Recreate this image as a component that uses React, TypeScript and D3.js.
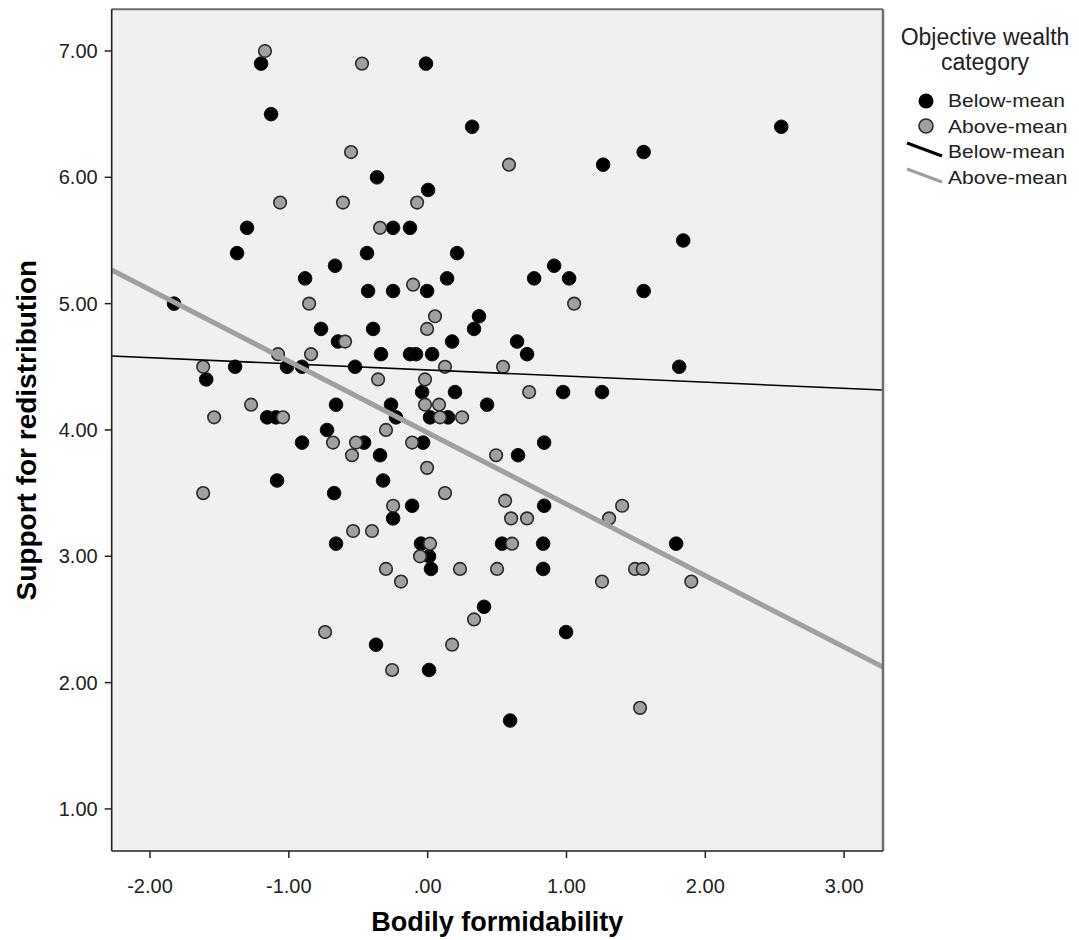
import React from 'react';
import * as d3 from 'd3';

// Bodily formidability (x) vs support for redistribution (y)
const belowMean: [number, number][] = [
  [-1.2, 6.9], [-0.012, 6.9], [-1.128, 6.5], [0.32, 6.4], [2.547, 6.4],
  [1.556, 6.2], [1.264, 6.1], [-0.365, 6.0], [0.003, 5.9],
  [-1.301, 5.6], [-0.249, 5.6], [-0.127, 5.6], [1.841, 5.5],
  [-1.373, 5.4], [-0.437, 5.4], [0.212, 5.4], [-0.667, 5.3], [0.911, 5.3],
  [-0.883, 5.2], [0.14, 5.2], [0.767, 5.2], [1.019, 5.2],
  [-0.429, 5.1], [-0.249, 5.1], [-0.004, 5.1], [1.556, 5.1],
  [-1.827, 5.0], [0.37, 4.9], [-0.768, 4.8], [-0.393, 4.8], [0.334, 4.8],
  [-0.646, 4.7], [0.176, 4.7], [0.644, 4.7],
  [-0.336, 4.6], [-0.127, 4.6], [-0.084, 4.6], [0.032, 4.6], [0.716, 4.6],
  [-1.387, 4.5], [-1.013, 4.5], [-0.905, 4.5], [-0.523, 4.5], [1.812, 4.5],
  [-1.595, 4.4], [-0.04, 4.3], [0.197, 4.3], [0.976, 4.3], [1.256, 4.3],
  [-0.66, 4.2], [-0.264, 4.2], [0.428, 4.2],
  [-1.156, 4.1], [-1.092, 4.1], [-0.228, 4.1], [0.017, 4.1], [0.147, 4.1],
  [-0.725, 4.0], [-0.905, 3.9], [-0.458, 3.9], [-0.033, 3.9], [0.839, 3.9],
  [-0.343, 3.8], [0.651, 3.8], [-1.085, 3.6], [-0.321, 3.6], [-0.674, 3.5],
  [-0.112, 3.4], [0.839, 3.4], [-0.249, 3.3],
  [-0.66, 3.1], [-0.048, 3.1], [0.536, 3.1], [0.832, 3.1], [1.79, 3.1],
  [0.01, 3.0], [0.024, 2.9], [0.832, 2.9], [0.406, 2.6], [0.997, 2.4],
  [-0.372, 2.3], [0.01, 2.1], [0.594, 1.7],
];

const aboveMean: [number, number][] = [
  [-1.172, 7.0], [-0.473, 6.9], [-0.552, 6.2], [0.586, 6.1],
  [-1.063, 5.8], [-0.61, 5.8], [-0.076, 5.8], [-0.343, 5.6], [-0.105, 5.15],
  [-0.854, 5.0], [1.055, 5.0], [0.053, 4.9], [-0.004, 4.8], [-0.595, 4.7],
  [-1.078, 4.6], [-0.84, 4.6], [-1.617, 4.5], [0.125, 4.5], [0.543, 4.5],
  [-0.357, 4.4], [-0.019, 4.4], [0.731, 4.3],
  [-1.272, 4.2], [-0.019, 4.2], [0.082, 4.2],
  [-1.538, 4.1], [-1.042, 4.1], [0.089, 4.1], [0.248, 4.1], [-0.3, 4.0],
  [-0.682, 3.9], [-0.516, 3.9], [-0.112, 3.9], [-0.545, 3.8], [0.493, 3.8],
  [-0.004, 3.7], [-1.617, 3.5], [0.125, 3.5], [0.558, 3.44],
  [-0.249, 3.4], [1.401, 3.4], [0.601, 3.3], [0.716, 3.3], [1.307, 3.3],
  [-0.537, 3.2], [-0.401, 3.2], [0.017, 3.1], [0.608, 3.1], [-0.055, 3.0],
  [-0.3, 2.9], [0.233, 2.9], [0.5, 2.9], [1.494, 2.9], [1.549, 2.9],
  [-0.192, 2.8], [1.256, 2.8], [1.899, 2.8], [0.334, 2.5], [-0.739, 2.4],
  [0.176, 2.3], [-0.256, 2.1], [1.53, 1.8],
];

// linear fit lines: [intercept, slope]
const belowFit = [4.475, -0.0484];
const aboveFit = [3.978, -0.5657];

const xTicks = [-2, -1, 0, 1, 2, 3];
const yTicks = [1, 2, 3, 4, 5, 6, 7];
const legendTitle = ['Objective wealth', 'category'];
const legendLabels = ['Below-mean', 'Above-mean'];

// SPSS style: "-2.00", ".00"
const fmt = (v: number) => d3.format('.2f')(v).replace('\u2212', '-').replace(/^(-?)0\./, '$1.');

const FONT = "'Liberation Sans', Arial, sans-serif";
const GRAY = '#a0a0a0';

export default function App() {
  const W = 1079;
  const H = 940;
  const left = 111.7;
  const right = 883;
  const top = 9.3;
  const bottom = 851;

  const x = d3.scaleLinear().domain([-2.276, 3.28]).range([left, right]);
  const y = d3.scaleLinear().domain([0.667, 7.33]).range([bottom, top]);

  const fitLine = (fit: number[]) => {
    const [x0, x1] = x.domain();
    return d3.line<number>()
      .x((d) => x(d))
      .y((d) => y(fit[0] + fit[1] * d))([x0, x1]);
  };

  return (
    <svg width={W} height={H} style={{ position: 'absolute', left: 0, top: 0 }} fontFamily={FONT}>
      <rect x={0} y={0} width={W} height={H} fill="#fff" />
      <rect x={left} y={top} width={right - left} height={bottom - top} fill="#f0f0f0" />

      <defs>
        <clipPath id="plot">
          <rect x={left} y={top} width={right - left} height={bottom - top} />
        </clipPath>
      </defs>

      <g clipPath="url(#plot)">
        {belowMean.map((d, i) => (
          <circle key={'b' + i} cx={x(d[0])} cy={y(d[1])} r={6.8} fill="#000" stroke="#111" strokeWidth={1} />
        ))}
        {aboveMean.map((d, i) => (
          <circle key={'a' + i} cx={x(d[0])} cy={y(d[1])} r={6.3} fill={GRAY} stroke="#2a2a2a" strokeWidth={1.6} />
        ))}
        <path d={fitLine(belowFit) || ''} stroke="#000" strokeWidth={1.6} fill="none" />
        <path d={fitLine(aboveFit) || ''} stroke={GRAY} strokeWidth={5} fill="none" />
      </g>

      {/* frame */}
      <line x1={left} x2={right} y1={top} y2={top} stroke="#6e6e6e" strokeWidth={2} />
      <line x1={right} x2={right} y1={top} y2={bottom} stroke="#6e6e6e" strokeWidth={2.5} />
      <line x1={left} x2={left} y1={top} y2={bottom} stroke="#222" strokeWidth={1.6} />
      <line x1={left} x2={right} y1={bottom} y2={bottom} stroke="#222" strokeWidth={1.6} />

      {/* y axis */}
      {yTicks.map((t) => (
        <g key={'y' + t}>
          <line x1={left - 7} x2={left} y1={y(t)} y2={y(t)} stroke="#222" strokeWidth={1.5} />
          <text x={left - 14} y={y(t)} dy="0.35em" textAnchor="end" fontSize={20} fill="#222">
            {fmt(t)}
          </text>
        </g>
      ))}

      {/* x axis */}
      {xTicks.map((t) => (
        <g key={'x' + t}>
          <line x1={x(t)} x2={x(t)} y1={bottom} y2={bottom + 7} stroke="#222" strokeWidth={1.5} />
          <text x={x(t)} y={bottom + 35} dy="0.35em" textAnchor="middle" fontSize={20} fill="#222">
            {fmt(t)}
          </text>
        </g>
      ))}

      <text x={(left + right) / 2} y={931} textAnchor="middle" fontSize={27} fontWeight="bold" fill="#000">
        Bodily formidability
      </text>
      <text
        transform={`translate(36, ${(top + bottom) / 2}) rotate(-90)`}
        textAnchor="middle"
        fontSize={28}
        fontWeight="bold"
        fill="#000"
      >
        Support for redistribution
      </text>

      {/* legend */}
      {legendTitle.map((s, i) => (
        <text key={s} x={985} y={45 + i * 25} textAnchor="middle" fontSize={23} fill="#222">
          {s}
        </text>
      ))}
      <circle cx={926} cy={101} r={7.5} fill="#000" />
      <circle cx={926} cy={126} r={7} fill={GRAY} stroke="#2a2a2a" strokeWidth={1.6} />
      <line x1={907} y1={143} x2={942} y2={156} stroke="#000" strokeWidth={3} />
      <line x1={907} y1={169} x2={942} y2={182} stroke={GRAY} strokeWidth={3} />
      {[...legendLabels, ...legendLabels].map((s, i) => (
        <text
          key={i}
          transform={`translate(948, ${101 + i * 25.5}) scale(1.17, 1)`}
          dy="0.35em"
          fontSize={18}
          fill="#222"
        >
          {s}
        </text>
      ))}
    </svg>
  );
}
